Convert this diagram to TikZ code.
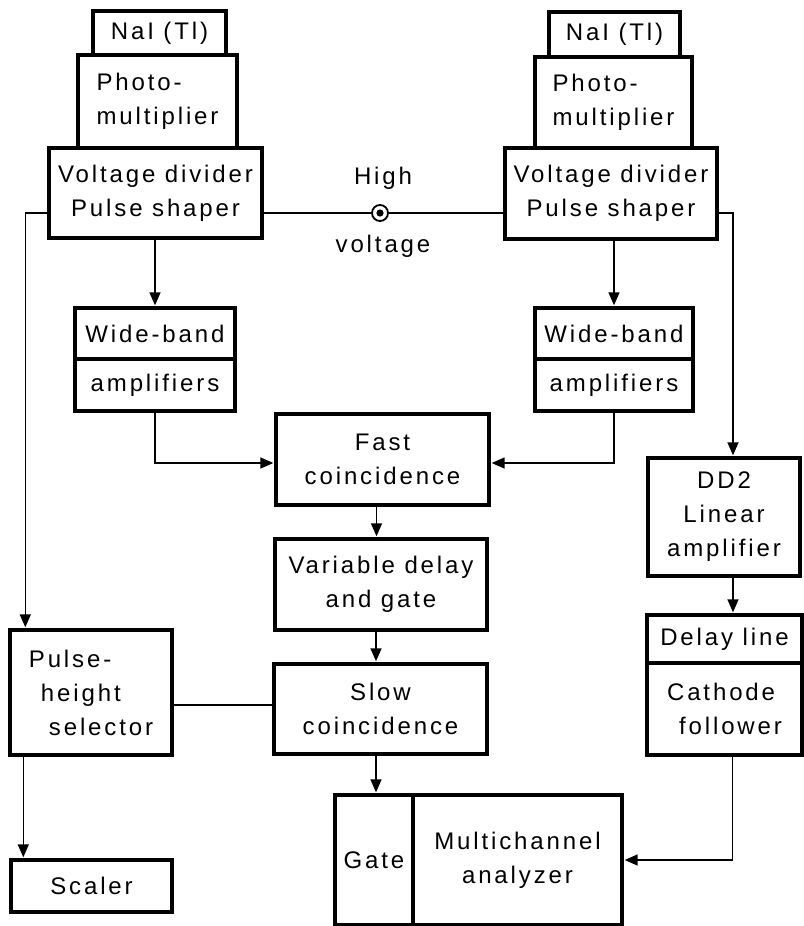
\documentclass[tikz,border=0pt]{standalone}
\usepackage{fontspec}
\setmainfont{Liberation Sans}[LetterSpace=12]
\usetikzlibrary{arrows.meta}
\newcommand\diagfont{\fontsize{24}{34}\selectfont}
\begin{document}
\begin{tikzpicture}[x=1pt,y=-1pt,
  box/.style={draw, line width=3.4pt, inner sep=0pt, align=center, font=\diagfont},
  conn/.style={line width=1.5pt},
  arr/.style={conn, -{Triangle[length=13pt,width=11pt]}, shorten >=1pt},
  lbl/.style={inner sep=0pt, font=\diagfont}]
\useasboundingbox (0,0) rectangle (803,926);
% left detector stack
\node[box, minimum width=133, minimum height=44] (lnai) at (159.5,33) {NaI (Tl)};
\node[box, minimum width=159, minimum height=93, align=left] (lpm) at (157.5,101.5) {Photo-\\multiplier};
\node[box, minimum width=213, minimum height=90] (lvd) at (155.5,193) {Voltage divider\\Pulse shaper};
% right detector stack
\node[box, minimum width=131, minimum height=45] (rnai) at (614.5,34.5) {NaI (Tl)};
\node[box, minimum width=157, minimum height=91, align=left] (rpm) at (613.5,102.5) {Photo-\\multiplier};
\node[box, minimum width=212, minimum height=91] (rvd) at (611,193.5) {Voltage divider\\Pulse shaper};
% wide-band amplifiers
\node[box, minimum width=160, minimum height=51] (lwbt) at (155,333.5) {Wide-band};
\node[box, minimum width=160, minimum height=52] (lwbb) at (155,385) {amplifiers};
\node[box, minimum width=158, minimum height=51] (rwbt) at (614,333.5) {Wide-band};
\node[box, minimum width=158, minimum height=52] (rwbb) at (614,385) {amplifiers};
% centre column
\node[box, minimum width=213, minimum height=91] (fast) at (382.5,459.5) {Fast\\coincidence};
\node[box, minimum width=212, minimum height=91] (var) at (381,584.5) {Variable delay\\and gate};
\node[box, minimum width=213, minimum height=90] (slow) at (380.5,709) {Slow\\coincidence};
% left column
\node[box, minimum width=162, minimum height=125, align=left] (phs) at (91,692.5) {Pulse-\\\hspace*{12pt}height\\\hspace*{20pt}selector};
\node[box, minimum width=161, minimum height=52] (scal) at (91.5,886) {Scaler};
% analyzer
\node[box, minimum width=78, minimum height=130] (gate) at (374,860) {Gate};
\node[box, minimum width=209, minimum height=130] (mca) at (517.5,860) {Multichannel\\analyzer};
% right column
\node[box, minimum width=152, minimum height=118] (dd2) at (724,517) {DD2\\Linear\\amplifier};
\node[box, minimum width=155, minimum height=48] (dl) at (724.5,639) {Delay line};
\node[box, minimum width=155, minimum height=92, align=left] (cf) at (724.5,709) {Cathode\\\hspace*{12pt}follower};
% high voltage
\node[draw, circle, line width=1.8pt, minimum size=16pt, inner sep=0pt] (hv) at (380,213) {};
\fill (hv.center) circle (3.6pt);
\node[lbl] (high) at (383,178) {High};
\node[lbl] (volt) at (383,246) {voltage};
% connectors
\draw[conn] ([yshift=-20pt]lvd.east) -- (hv.west);
\draw[conn] (hv.east) -- ([yshift=-19.5pt]rvd.west);
\draw[arr] ([yshift=-20pt]lvd.west) -| ([xshift=17pt]phs.north west);
\draw[arr] ([yshift=-19.5pt]rvd.east) -| ([xshift=9pt]dd2.north);
\draw[arr] (lvd.south -| lwbt.north) -- (lwbt.north);
\draw[arr] (rvd.south -| rwbt.north) -- (rwbt.north);
\draw[arr] (lwbb.south) |- ([yshift=-3.5pt]fast.west);
\draw[arr] (rwbb.south) |- ([yshift=-3.5pt]fast.east);
\draw[arr] ([xshift=-6pt]fast.south) -- ([xshift=-6pt]fast.south |- var.north);
\draw[arr] ([xshift=-5pt]var.south) -- ([xshift=-5pt]var.south |- slow.north);
\draw[arr] ([xshift=2pt]gate.north |- slow.south) -- ([xshift=2pt]gate.north);
\draw[conn] ([yshift=-12.5pt]phs.east) -- ([yshift=-12.5pt]phs.east -| slow.west);
\draw[arr] ([xshift=15pt]phs.south west) -- ([xshift=15pt]phs.south west |- scal.north);
\draw[arr] ([xshift=9pt]dd2.south) -- ([xshift=9pt]dd2.south |- dl.north);
\draw[arr] ([xshift=8pt]cf.south) |- (mca.east);
\end{tikzpicture}
\end{document}
